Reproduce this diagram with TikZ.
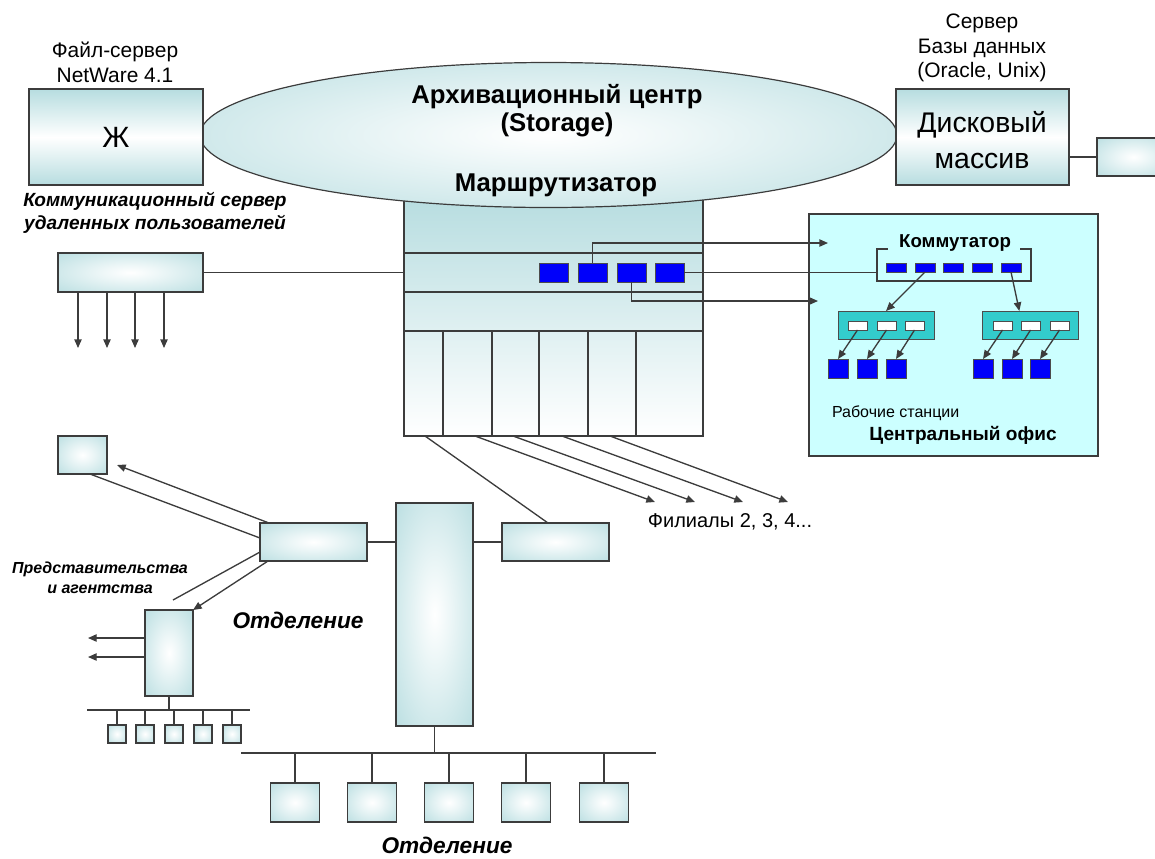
\documentclass[tikz,border=0pt]{standalone}
\usepackage{fontspec}
\setmainfont{Liberation Sans}
\usetikzlibrary{shapes.geometric,fit,arrows.meta,calc}
\definecolor{tl}{RGB}{183,221,224}
\definecolor{officebg}{RGB}{204,255,255}
\definecolor{hubc}{RGB}{51,204,204}
\definecolor{bluec}{RGB}{0,0,250}
\definecolor{ln}{RGB}{60,60,60}
\pgfdeclareradialshading{glow}{\pgfpoint{0bp}{0bp}}{color(0bp)=(white); color(10bp)=(white!75!tl); color(38bp)=(tl); color(100bp)=(tl)}
\newcommand\mybox[6]{\node[#6, fit={(#2,#3) (#4,#5)}] (#1) {};}
\begin{document}
\begin{tikzpicture}[x=0.75pt,y=-0.75pt,
  every node/.style={inner sep=0pt, outer sep=0pt},
  glowbox/.style={draw=ln, line width=0.9pt, shading=glow},
  vbox/.style={draw=ln, line width=0.9pt, top color=tl, bottom color=tl, middle color=white},
  bluebox/.style={draw=black!70, line width=0.6pt, fill=bluec},
  hubbox/.style={draw=black!70, line width=0.6pt, fill=hubc},
  whitebox/.style={draw=black!70, line width=0.6pt, fill=white},
  conn/.style={draw=ln, line width=1pt},
  arr/.style={conn, -{Triangle[length=6.5pt,width=5.5pt]}},
  lbl/.style={font=\fontsize{15.7}{18.5}\selectfont, align=center},
  bi/.style n args={2}{font=\bfseries\itshape\fontsize{#1}{#2}\selectfont}
]
\useasboundingbox (0,0) rectangle (1155,858);
\clip (0,0) rectangle (1155,858);

% router
\mybox{router}{404}{196}{703}{436}{draw=ln, line width=0.9pt, top color=tl, bottom color=white}
\draw[conn] (404,253) -- (703,253) (404,292) -- (703,292) (404,331) -- (703,331);
\foreach \x in {443,492,539,588,636} \draw[conn] (\x,331) -- (\x,436);

% archive ellipse
\node[ellipse, glowbox, minimum width=522.75pt, minimum height=108.75pt] (arch) at (548.5,135) {};
\node[font=\bfseries\fontsize{19.3}{21}\selectfont, align=center] at (557,111) {Архивационный центр\\(Storage)};
\node[font=\bfseries\fontsize{19.3}{20}\selectfont] at (556,185) {Маршрутизатор};

% file server
\mybox{fs}{29}{89}{203}{185}{vbox}
\node[font=\fontsize{22}{24}\selectfont] at (fs) {Ж};
\node[lbl] at (115,62) {Файл-сервер\\NetWare 4.1};

% database server
\mybox{disk}{896}{89}{1069}{185}{vbox}
\node[font=\fontsize{21.3}{27}\selectfont, align=center] at (982,140) {Дисковый\\массив};
\node[lbl] at (982,48) {Сервер\\Базы данных\\(Oracle, Unix)};
\mybox{ext}{1097}{138}{1170}{176}{glowbox}
\draw[conn] (ext.west -| disk.east) -- (ext.west);

% communication server
\node[bi={14.3}{17}, align=center] at (155,213) {Коммуникационный сервер\\удаленных пользователей};
\mybox{cs}{58}{253}{203}{292}{glowbox}
\draw[conn] (cs.east) -- (cs.east -| router.west);
\foreach \x in {78,107,135,164} \draw[arr] ([xshift={(\x-58)*0.75pt}]cs.south west) -- (\x,348);

% router ports
\foreach \i/\x in {1/539,2/578,3/617,4/655} {\mybox{bs\i}{\x}{263}{\x+29}{282}{bluebox}}

% central office
\mybox{office}{809}{214}{1098}{456}{draw=ln, line width=0.9pt, fill=officebg}
\coordinate (kNW) at (877,249); \coordinate (kSE) at (1031,281);
\node[fit=(kNW)(kSE)] (komm) {};
\draw[conn] ([xshift=8pt]komm.north west) -- (komm.north west) -- (komm.south west) -- (komm.south east) -- (komm.north east) -- ([xshift=-8pt]komm.north east);
\node[font=\bfseries\fontsize{14}{16}\selectfont] at (955,243) {Коммутатор};
\foreach \i/\x in {1/886,2/915,3/943,4/972,5/1001} {\mybox{k\i}{\x}{263}{\x+20}{272}{bluebox}}
\mybox{h1}{838}{311}{934}{339}{hubbox}
\mybox{h2}{982}{311}{1078}{339}{hubbox}
\foreach \i/\x in {1/848,2/877,3/905} {\mybox{wa\i}{\x}{321}{\x+19}{330}{whitebox}}
\foreach \i/\x in {1/993,2/1021,3/1050} {\mybox{wb\i}{\x}{321}{\x+19}{330}{whitebox}}
\foreach \i/\x in {1/828,2/857,3/886} {\mybox{sa\i}{\x}{359}{\x+20}{378}{bluebox}}
\foreach \i/\x in {1/973,2/1002,3/1030} {\mybox{sb\i}{\x}{359}{\x+20}{378}{bluebox}}
\draw[arr] (k2.south) -- (h1.north);
\draw[arr] (k5.south) -- ([xshift=-8pt]h2.north);
\foreach \i in {1,2,3} {\draw[arr] (wa\i.south) -- (sa\i.north); \draw[arr] (wb\i.south) -- (sb\i.north);}
\node[anchor=west, font=\fontsize{12}{14}\selectfont] at (832,413) {Рабочие станции};
\node[font=\bfseries\fontsize{14.3}{16}\selectfont] at (963,435) {Центральный офис};

% router to office
\coordinate (t1) at (828,243);
\draw[arr] (bs2.north) |- (t1);
\draw[conn] (bs4.east) -- (bs4.east -| komm.west);
\coordinate (t2) at (818,301);
\draw[arr] (bs3.south) |- (t2);

% branch (Отделение)
\mybox{T}{396}{503}{473}{726}{glowbox}
\mybox{bA}{260}{523}{367}{561}{glowbox}
\mybox{bC}{502}{523}{609}{561}{glowbox}
\draw[conn] (bA.east) -- (bA.east -| T.west);
\draw[conn] (bC.west -| T.east) -- (bC.west);
\draw[conn] ([xshift=15.75pt]router.south west) -- ($(bC.north west)!0.43!(bC.north east)$);
\coordinate (f1) at (655,502); \coordinate (f2) at (695,502);
\coordinate (f3) at (743,502); \coordinate (f4) at (788,502);
\draw[arr] ([xshift=53.25pt]router.south west) -- (f1);
\draw[arr] ([xshift=81.75pt]router.south west) -- (f2);
\draw[arr] ([xshift=118.5pt]router.south west) -- (f3);
\draw[arr] ([xshift=154.5pt]router.south west) -- (f4);
\node[font=\fontsize{15}{18}\selectfont] at (730,522) {Филиалы 2, 3, 4...};

\coordinate (busL) at (241,753); \coordinate (busR) at (656,753);
\draw[conn, line width=2.2pt] (busL) -- (busR);
\draw[conn] (T.south) -- (T.south |- busL);
\foreach \i/\c in {1/295,2/372,3/449,4/526,5/604} {
  \mybox{d\i}{\c-24.5}{783}{\c+24.5}{822}{glowbox}
  \draw[conn] (d\i.north |- busL) -- (d\i.north);
}
\node[bi={17}{17}] at (447,845) {Отделение};
\node[bi={17}{17}] at (298,620) {Отделение};

% representative offices
\mybox{sq}{58}{436}{107}{474}{glowbox}
\mybox{bB}{145}{610}{193}{696}{glowbox}
\coordinate (r1) at (117,465);
\coordinate (r2) at (173,600);
\draw[conn] ([xshift=24pt]sq.south west) -- ([yshift=3pt]bA.west);
\draw[arr] ([xshift=6.75pt]bA.north west) -- (r1);
\draw[conn] ([yshift=-7.5pt]bA.west) -- (r2);
\draw[arr] ([xshift=6pt]bA.south west) -- (bB.north east);
\coordinate (l1) at (88,638); \coordinate (l2) at (88,657);
\draw[arr] (l1 -| bB.west) -- (l1);
\draw[arr] (l2 -| bB.west) -- (l2);
\coordinate (b1L) at (87,710); \coordinate (b1R) at (250,710);
\draw[conn] (b1L) -- (b1R);
\draw[conn] (bB.south) -- (bB.south |- b1L);
\foreach \i/\c in {1/117,2/145,3/174,4/203,5/232} {
  \mybox{p\i}{\c-9}{725}{\c+9}{743}{glowbox}
  \draw[conn] (p\i.north |- b1L) -- (p\i.north);
}
\node[bi={12}{15}, align=center] at (100,578) {Представительства\\и агентства};
\end{tikzpicture}
\end{document}
